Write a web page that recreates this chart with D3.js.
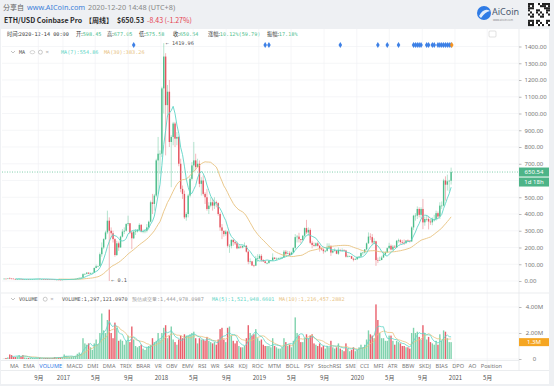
<!DOCTYPE html>
<html>
<head>
<meta charset="utf-8">
<script src="https://cdn.jsdelivr.net/npm/d3@7/dist/d3.min.js"></script>
<style>
    body { margin: 0; background: #eef0f3; }
    svg { display: block; }
</style>
</head>
<body>
<svg id="chart" width="554" height="386"></svg>
<script>
// weekly candles, ETH/USD Coinbase Pro, first week starts 2016-05-23
const startWeek = "2016-05-23";
const firstOpen = 12.5;
const closes = [
    13.9, 13.6, 15.0, 14.5, 14.0, 12.0, 10.5, 11.9, 12.5, 11.5,
    10.8, 11.0, 11.1, 11.0, 11.9, 12.0, 12.5, 13.0, 13.2, 12.0,
    12.0, 11.7, 11.0, 10.9, 10.2, 9.9, 9.2, 7.8, 8.2, 7.7,
    7.2, 8.2, 9.8, 10.0, 10.5, 10.6, 11.2, 11.4, 12.8, 15.6,
    19.2, 20.3, 41, 43, 50, 44, 48, 48.5, 78, 88,
    90, 160, 200, 250, 290, 360, 300, 285, 250, 155,
    225, 200, 265, 295, 300, 340, 345, 290, 255, 295,
    296, 305, 335, 296, 298, 300, 320, 354, 470, 460,
    510, 720, 760, 760, 1150, 1340, 1050, 1130, 830, 860,
    940, 850, 860, 700, 550, 520, 380, 400, 510, 610,
    690, 720, 680, 700, 580, 600, 520, 500, 430, 450,
    470, 450, 470, 465, 400, 320, 300, 280, 295, 210,
    210, 245, 232, 225, 195, 205, 200, 210, 210, 175,
    115, 117, 93, 92, 135, 135, 150, 125, 117, 108,
    108, 120, 123, 140, 132, 133, 136, 137, 141, 175,
    162, 165, 155, 170, 198, 262, 265, 250, 245, 270,
    316, 290, 305, 228, 215, 210, 225, 210, 195, 188,
    178, 180, 198, 210, 170, 180, 183, 163, 185, 182,
    184, 182, 145, 147, 148, 133, 127, 130, 144, 146,
    167, 170, 189, 225, 265, 262, 230, 237, 125, 122,
    125, 140, 158, 171, 196, 210, 188, 205, 200, 240,
    243, 233, 229, 226, 242, 240, 236, 320, 390, 390,
    430, 395, 430, 350, 370, 370, 355, 350, 370, 370,
    405, 385, 450, 450, 600, 575, 595, 598.45, 650.54
];
const highs = [
    14.0, 14.5, 15.3, 21.5, 15.5, 14.5, 12.2, 12.2, 15.0, 13.2,
    11.6, 12.0, 11.5, 11.4, 12.3, 12.3, 12.6, 13.5, 13.4, 13.4,
    12.2, 12.1, 11.9, 11.2, 11.2, 10.5, 10.0, 9.3, 8.5, 8.4,
    7.9, 8.5, 11.5, 10.9, 10.6, 10.8, 11.5, 11.6, 13.0, 16.0,
    19.5, 20.5, 46, 44, 53, 51, 50, 50, 80, 98,
    91, 170, 230, 255, 300, 420, 380, 320, 300, 255,
    240, 235, 270, 310, 320, 345, 390, 345, 300, 300,
    310, 310, 345, 340, 308, 310, 340, 360, 480, 520,
    520, 730, 860, 780, 1160, 1419.96, 1360, 1170, 1200, 870,
    950, 950, 890, 865, 730, 570, 540, 410, 520, 620,
    710, 830, 760, 730, 720, 620, 630, 530, 550, 470,
    500, 490, 500, 480, 470, 410, 340, 300, 305, 300,
    220, 250, 250, 240, 235, 215, 210, 210, 230, 215,
    180, 135, 120, 97, 150, 160, 160, 160, 130, 122,
    110, 125, 125, 165, 140, 140, 140, 145, 145, 185,
    185, 180, 178, 175, 200, 280, 275, 288, 250, 275,
    320, 365, 320, 315, 240, 230, 230, 235, 215, 200,
    195, 185, 225, 225, 212, 185, 195, 185, 200, 192,
    195, 190, 186, 158, 152, 150, 140, 137, 146, 150,
    175, 172, 190, 230, 290, 285, 280, 255, 240, 140,
    145, 150, 175, 178, 200, 228, 218, 215, 215, 245,
    253, 250, 245, 248, 243, 248, 244, 327, 395, 405,
    445, 440, 440, 490, 385, 395, 385, 370, 380, 395,
    420, 415, 470, 475, 610, 625, 635, 604, 677.05
];
const lows = [
    12.0, 12.9, 13.5, 13.0, 11.5, 11.8, 10.0, 10.4, 11.0, 10.5,
    8.2, 10.2, 10.5, 10.7, 10.9, 11.1, 11.7, 12.4, 12.8, 11.8,
    11.8, 11.6, 10.9, 10.1, 10.0, 9.6, 8.8, 7.6, 7.3, 7.2,
    6.7, 7.0, 8.0, 9.5, 9.8, 10.3, 10.5, 10.9, 11.2, 12.4,
    15.4, 18.0, 20, 35, 40, 41, 43, 46, 48, 76,
    82, 88, 145, 190, 245, 280, 0.1, 260, 230, 145,
    150, 180, 200, 260, 280, 295, 330, 280, 190, 250,
    275, 290, 295, 290, 285, 285, 290, 305, 350, 400,
    420, 500, 520, 640, 740, 1000, 750, 980, 800, 560,
    810, 800, 810, 685, 530, 490, 370, 360, 380, 500,
    600, 650, 660, 680, 560, 510, 510, 460, 420, 400,
    440, 420, 430, 440, 390, 300, 250, 265, 270, 200,
    168, 195, 210, 215, 190, 195, 195, 195, 205, 170,
    100, 103, 90, 82, 90, 115, 130, 115, 115, 105,
    100, 103, 116, 120, 130, 124, 131, 134, 133, 140,
    155, 160, 150, 155, 165, 190, 230, 230, 225, 240,
    260, 280, 270, 220, 195, 205, 205, 205, 175, 182,
    163, 170, 175, 195, 150, 165, 175, 160, 156, 175,
    178, 180, 140, 140, 145, 132, 117, 125, 126, 135,
    143, 156, 164, 184, 222, 245, 215, 220, 90, 107,
    122, 125, 140, 150, 170, 190, 183, 183, 198, 196,
    229, 221, 220, 215, 222, 233, 230, 235, 305, 360,
    370, 380, 375, 310, 330, 355, 308, 335, 333, 355,
    360, 370, 370, 430, 445, 480, 540, 535, 575.58
];
// weekly volume, millions of ETH
const volumes = [
    0.02, 0.08, 0.12, 0.35, 0.3, 0.15, 0.15, 0.2, 0.3, 0.2,
    0.3, 0.12, 0.1, 0.08, 0.1, 0.08, 0.08, 0.1, 0.08, 0.08,
    0.06, 0.06, 0.08, 0.08, 0.07, 0.06, 0.08, 0.15, 0.12, 0.12,
    0.12, 0.15, 0.35, 0.25, 0.2, 0.15, 0.18, 0.2, 0.25, 0.4,
    0.5, 0.4, 1.6, 1.2, 1.1, 1.2, 0.9, 0.7, 1.2, 1.5,
    1.1, 2.0, 3.5, 2.2, 2.0, 3.0, 3.8, 2.0, 1.6, 2.8,
    2.4, 1.4, 1.5, 1.4, 1.1, 1.4, 1.8, 1.3, 2.5, 1.5,
    1.0, 0.9, 1.0, 1.1, 0.8, 0.7, 0.9, 1.0, 1.1, 1.6,
    1.3, 1.4, 2.0, 1.5, 2.0, 2.4, 2.6, 1.6, 1.8, 2.5,
    1.5, 1.3, 1.1, 1.5, 1.8, 1.6, 1.9, 1.8, 1.8, 1.9,
    2.0, 2.1, 1.6, 1.2, 1.6, 1.5, 1.5, 1.4, 1.7, 1.4,
    1.3, 1.2, 1.3, 1.1, 1.5, 2.3, 2.4, 1.5, 1.3, 2.4,
    2.5, 1.8, 1.4, 1.2, 1.4, 1.0, 0.9, 0.9, 1.0, 1.6,
    2.6, 2.0, 1.8, 1.9, 2.3, 1.6, 1.4, 1.5, 1.1, 1.0,
    1.0, 1.0, 0.9, 1.6, 1.0, 0.9, 0.8, 0.8, 0.9, 1.6,
    1.3, 1.0, 1.1, 0.9, 1.4, 3.2, 2.0, 1.8, 1.3, 1.3,
    1.6, 1.9, 1.6, 1.8, 1.9, 1.2, 1.1, 1.0, 1.2, 0.9,
    1.0, 0.8, 1.0, 0.9, 1.4, 0.9, 0.8, 0.9, 1.2, 0.8,
    0.7, 0.6, 1.2, 0.8, 0.6, 0.7, 0.9, 0.6, 0.7, 0.9,
    1.1, 0.9, 1.1, 1.5, 2.2, 1.9, 1.8, 1.6, 4.2, 3.0,
    2.0, 1.6, 1.6, 1.4, 1.4, 1.8, 1.8, 1.4, 1.1, 1.4,
    1.3, 1.2, 1.0, 1.0, 0.9, 0.9, 0.8, 2.0, 2.4, 2.0,
    2.1, 1.7, 1.5, 2.6, 2.0, 1.5, 1.7, 1.3, 1.2, 1.1,
    1.4, 1.1, 1.9, 1.4, 2.2, 2.1, 1.6, 1.3, 1.297
];

const priceTicks = [0, 100, 200, 300, 400, 500, 600, 700, 800, 900, 1000, 1100, 1200, 1300, 1400];
const volumeTicks = [0, 2, 4];
const timeLabels = [
    ["2016-10-01", "9月"], ["2017-01-01", "2017"], ["2017-05-01", "5月"], ["2017-09-01", "9月"],
    ["2018-01-01", "2018"], ["2018-05-01", "5月"], ["2018-09-01", "9月"],
    ["2019-01-01", "2019"], ["2019-05-01", "5月"], ["2019-09-01", "9月"],
    ["2020-01-01", "2020"], ["2020-05-01", "5月"], ["2020-09-01", "9月"],
    ["2021-01-01", "2021"], ["2021-05-01", "5月"]
];
const eventDates = [
    "2017-09-18", "2019-01-21", "2019-02-04", "2019-10-28", "2020-03-16", "2020-04-20", "2020-06-01",
    "2020-07-27", "2020-08-03", "2020-08-10", "2020-08-17", "2020-08-24", "2020-09-14", "2020-09-21",
    "2020-10-05", "2020-10-12", "2020-10-26", "2020-11-02", "2020-11-09", "2020-11-16", "2020-11-23",
    "2020-11-30", "2020-12-07", "2020-12-14"
];
const latestEvent = "2020-12-20";
const indicatorTabs = ["MA", "EMA", "VOLUME", "MACD", "DMI", "DMA", "TRIX", "BRAR", "VR", "OBV", "EMV", "RSI",
    "WR", "SAR", "KDJ", "ROC", "MTM", "BOLL", "PSY", "StochRSI", "SMI", "CCI", "MFI", "ATR", "BBW", "SKDJ",
    "BIAS", "DPO", "AO", "Position"];

const upColor = "#4dbd8b";
const downColor = "#e5535f";
const ma7Color = "#5fd5c6";
const ma30Color = "#e8c27f";
const fontSans = '"Noto Sans", "Noto Sans CJK SC", sans-serif';
const fontCjk = '"Noto Sans CJK SC", "Noto Sans", sans-serif';
const fontMono = '"DejaVu Sans Mono", "Liberation Mono", monospace';

const plotLeft = 2, plotRight = 519;
const svg = d3.select("#chart");

const parseDay = d3.utcParse("%Y-%m-%d");
const start = parseDay(startWeek);
const data = closes.map(function (c, i) {
    return {
        date: d3.utcDay.offset(start, i * 7),
        open: i === 0 ? firstOpen : closes[i - 1],
        high: highs[i],
        low: lows[i],
        close: c,
        volume: volumes[i] * 1e6
    };
});

function movingAverage(values, n) {
    return values.map(function (v, i) {
        if (i < n - 1) return null;
        return d3.mean(values.slice(i - n + 1, i + 1));
    });
}

const x = d3.scaleUtc()
    .domain([parseDay("2017-01-01"), parseDay("2021-01-01")])
    .range([63, 455]);
const y = d3.scaleLinear().domain([0, 1400]).range([281, 46.5]);
const yVol = d3.scaleLinear().domain([0, 4e6]).range([359, 307]);

function cx(d) {
    return x(d3.utcHour.offset(d, 84));
}

// backgrounds
svg.append("rect").attr("width", 554).attr("height", 386).attr("fill", "#eef0f3");
svg.append("rect").attr("x", 1).attr("y", 29).attr("width", 548).attr("height", 355).attr("fill", "#fff");

// header
const head = svg.append("g");
head.append("text").attr("x", 3).attr("y", 10).attr("font-family", fontCjk).attr("font-size", 7)
    .attr("fill", "#666").text("分享自");
head.append("text").attr("x", 27).attr("y", 10).attr("font-family", fontSans).attr("font-size", 7.3)
    .attr("fill", "#3d7fd9").text("www.AICoin.com");
head.append("text").attr("x", 88).attr("y", 10).attr("font-family", fontSans).attr("font-size", 7.3)
    .attr("fill", "#888").text("2020-12-20 14:48 (UTC+8)");
const title = head.append("text").attr("x", 4).attr("y", 23).attr("font-family", fontCjk)
    .attr("font-size", 7).attr("font-weight", "bold").attr("fill", "#2b2b2b");
title.append("tspan").text("ETH/USD Coinbase Pro");
title.append("tspan").attr("x", 85).text("【周线】");
title.append("tspan").attr("x", 117).text("$650.53");
title.append("tspan").attr("x", 147).attr("fill", "#e5404f").attr("font-weight", "normal").text("-8.43 (-1.27%)");

// logo + qr
head.append("circle").attr("cx", 484).attr("cy", 13).attr("r", 7).attr("fill", "#2f7be5");
head.append("path").attr("d", "M479,16 Q484,7 490,11 Q485,12 481,18 Z").attr("fill", "#fff").attr("opacity", 0.85);
head.append("text").attr("x", 492).attr("y", 15).attr("font-family", fontSans).attr("font-size", 9)
    .attr("fill", "#4a5a70").text("AiCoin");
head.append("text").attr("x", 493).attr("y", 20.5).attr("font-family", fontSans).attr("font-size", 2.6)
    .attr("fill", "#888").text("www.aicoin.com");
const qr = head.append("g").attr("transform", "translate(528,3)");
qr.append("rect").attr("width", 22).attr("height", 23).attr("fill", "#fff");
for (let r = 0; r < 11; r++) {
    for (let c = 0; c < 11; c++) {
        const finder = (r < 3 && c < 3) || (r < 3 && c > 7) || (r > 7 && c < 3);
        const on = finder ? !(r % 8 === 1 && c % 8 === 1) : ((r * 7 + c * 13 + r * c) % 5 < 2);
        if (on) qr.append("rect").attr("x", c * 2).attr("y", r * 2.1).attr("width", 2).attr("height", 2.1).attr("fill", "#222");
    }
}

// info row
const info = svg.append("text").attr("y", 36).attr("font-family", fontMono).attr("font-size", 5.2).attr("fill", "#333");
const infoParts = [["时间:", "2020-12-14 00:00", 7, "#333"], ["开:", "598.45", 76, upColor], ["高:", "677.05", 107, upColor],
    ["低:", "575.58", 139, upColor], ["收:", "650.54", 173, upColor], ["涨幅:", "10.12%(59.79)", 208, upColor], ["振幅:", "17.18%", 267, upColor]];
infoParts.forEach(function (p) {
    info.append("tspan").attr("x", p[2]).attr("font-family", fontCjk).text(p[0]);
    info.append("tspan").attr("fill", p[3]).text(p[1]);
});
svg.append("rect").attr("x", 489).attr("y", 31).attr("width", 7).attr("height", 6).attr("rx", 1)
    .attr("fill", "none").attr("stroke", "#ccc").attr("stroke-width", 0.6);

// grid
const grid = svg.append("g").attr("stroke", "#f0f2f5").attr("stroke-width", 0.7);
grid.selectAll(".h").data(priceTicks).join("line")
    .attr("x1", plotLeft).attr("x2", plotRight).attr("y1", d => y(d)).attr("y2", d => y(d));
grid.selectAll(".v").data(timeLabels).join("line")
    .attr("x1", d => x(parseDay(d[0]))).attr("x2", d => x(parseDay(d[0])))
    .attr("y1", 29).attr("y2", 370);
grid.selectAll(".vh").data(volumeTicks).join("line")
    .attr("x1", plotLeft).attr("x2", plotRight).attr("y1", d => yVol(d * 1e6)).attr("y2", d => yVol(d * 1e6));

// panel separators
const sep = svg.append("g").attr("stroke", "#e6e8eb").attr("stroke-width", 0.8);
sep.append("line").attr("x1", 1).attr("x2", 549).attr("y1", 293).attr("y2", 293);
sep.append("line").attr("x1", 1).attr("x2", plotRight).attr("y1", 360.5).attr("y2", 360.5);
sep.append("line").attr("x1", 1).attr("x2", 549).attr("y1", 370.5).attr("y2", 370.5);
sep.append("line").attr("x1", plotRight).attr("x2", plotRight).attr("y1", 29).attr("y2", 370.5);

// candles
const candleG = svg.append("g");
candleG.selectAll("line").data(data).join("line")
    .attr("x1", d => cx(d.date)).attr("x2", d => cx(d.date))
    .attr("y1", d => y(d.high)).attr("y2", d => y(d.low))
    .attr("stroke", d => d.close >= d.open ? upColor : downColor)
    .attr("stroke-opacity", 0.6).attr("stroke-width", 0.7);
candleG.selectAll("rect").data(data).join("rect")
    .attr("x", d => cx(d.date) - 0.7).attr("width", 1.4)
    .attr("y", d => y(Math.max(d.open, d.close)))
    .attr("height", d => Math.max(0.6, Math.abs(y(d.open) - y(d.close))))
    .attr("fill", d => d.close >= d.open ? upColor : downColor);

// moving averages
const ma7 = movingAverage(closes, 7);
const ma30 = movingAverage(closes, 30);
const maLine = d3.line().defined(d => d[1] != null).x(d => cx(d[0])).y(d => y(d[1]));
svg.append("path").datum(data.map((d, i) => [d.date, ma30[i]])).attr("d", maLine)
    .attr("fill", "none").attr("stroke", ma30Color).attr("stroke-width", 0.9);
svg.append("path").datum(data.map((d, i) => [d.date, ma7[i]])).attr("d", maLine)
    .attr("fill", "none").attr("stroke", ma7Color).attr("stroke-width", 0.9);

// high / low markers
const hiIdx = d3.maxIndex(highs), loIdx = d3.minIndex(lows);
svg.append("text").attr("x", cx(data[hiIdx].date) + 2).attr("y", y(highs[hiIdx]) + 1.5)
    .attr("font-family", fontMono).attr("font-size", 5.2).attr("fill", "#555").text("← " + highs[hiIdx].toFixed(2));
svg.append("text").attr("x", cx(data[loIdx].date) + 2).attr("y", y(lows[loIdx]) + 1.5)
    .attr("font-family", fontMono).attr("font-size", 5.2).attr("fill", "#555").text("← " + lows[loIdx]);

// events
const diamond = d3.symbol().type(d3.symbolDiamond).size(11);
svg.selectAll(".ev").data(eventDates).join("path")
    .attr("transform", d => "translate(" + cx(parseDay(d)) + ",45)")
    .attr("d", diamond).attr("fill", "#3d80e6");
svg.append("path").attr("transform", "translate(" + x(parseDay(latestEvent)) + ",45)")
    .attr("d", diamond).attr("fill", "#f7931e");

// last price line
const last = data[data.length - 1];
svg.append("line").attr("x1", plotLeft).attr("x2", plotRight).attr("y1", y(last.close)).attr("y2", y(last.close))
    .attr("stroke", upColor).attr("stroke-width", 0.7).attr("stroke-dasharray", "1,1.5");

// price axis
const priceAxis = svg.append("g").attr("transform", "translate(" + plotRight + ",0)")
    .call(d3.axisRight(y).tickValues(priceTicks).tickFormat(d3.format(".2f")).tickSize(2.5).tickPadding(3));
priceAxis.select(".domain").remove();
priceAxis.selectAll("line").attr("stroke", "#bbb");
priceAxis.selectAll("text").attr("font-family", fontSans).attr("font-size", 6).attr("fill", "#777");

svg.append("rect").attr("x", plotRight).attr("y", y(last.close) - 4.5).attr("width", 30).attr("height", 9).attr("fill", "#4db488");
svg.append("text").attr("x", 534).attr("y", y(last.close) + 2.2).attr("text-anchor", "middle")
    .attr("font-family", fontSans).attr("font-size", 6).attr("fill", "#fff").text(last.close.toFixed(2));
svg.append("rect").attr("x", plotRight).attr("y", y(last.close) + 5.5).attr("width", 30).attr("height", 9).attr("fill", "#4db488");
svg.append("text").attr("x", 534).attr("y", y(last.close) + 12.3).attr("text-anchor", "middle")
    .attr("font-family", fontSans).attr("font-size", 6).attr("fill", "#fff").text("1d 18h");

// MA legend
function legendRow(yPos, name, items) {
    const g = svg.append("g");
    g.append("path").attr("d", "M11," + (yPos - 3) + " l2,2 l2,-2").attr("fill", "none").attr("stroke", "#999").attr("stroke-width", 0.6);
    g.append("text").attr("x", 19).attr("y", yPos).attr("font-family", fontMono).attr("font-size", 5.2).attr("fill", "#555").text(name);
    let ix = 19 + name.length * 3.2 + 5;
    if (name === "MA") {
        g.append("ellipse").attr("cx", ix + 2).attr("cy", yPos - 1.8).attr("rx", 2.4).attr("ry", 1.6).attr("fill", "none").attr("stroke", "#bbb").attr("stroke-width", 0.6);
        ix += 8;
    }
    g.append("circle").attr("cx", ix + 2).attr("cy", yPos - 1.8).attr("r", 2).attr("fill", "none").attr("stroke", "#bbb").attr("stroke-width", 0.8);
    g.append("text").attr("x", ix + 7).attr("y", yPos + 0.3).attr("font-family", fontSans).attr("font-size", 6).attr("fill", "#aaa").text("×");
    items.forEach(function (it) {
        g.append("text").attr("x", it[0]).attr("y", yPos).attr("font-family", fontMono).attr("font-size", 5.2)
            .attr("fill", it[2]).text(it[1]);
    });
}
legendRow(54, "MA", [[61, "MA(7):554.86", ma7Color], [104, "MA(30):383.26", ma30Color]]);

// volume
const volG = svg.append("g");
volG.selectAll("rect").data(data).join("rect")
    .attr("x", d => cx(d.date) - 0.7).attr("width", 1.4)
    .attr("y", d => yVol(d.volume)).attr("height", d => yVol(0) - yVol(d.volume))
    .attr("fill", d => d.close >= d.open ? "#7fd2ad" : "#e9606c");
const vols = data.map(d => d.volume);
const ma5v = movingAverage(vols, 5), ma10v = movingAverage(vols, 10);
const volLine = d3.line().defined(d => d[1] != null).x(d => cx(d[0])).y(d => yVol(d[1]));
svg.append("path").datum(data.map((d, i) => [d.date, ma10v[i]])).attr("d", volLine)
    .attr("fill", "none").attr("stroke", ma30Color).attr("stroke-width", 0.8);
svg.append("path").datum(data.map((d, i) => [d.date, ma5v[i]])).attr("d", volLine)
    .attr("fill", "none").attr("stroke", ma7Color).attr("stroke-width", 0.8);

legendRow(301, "VOLUME", [[62, "VOLUME:1,297,121.0970", "#555"], [132, "预估成交量:1,444,978.0987", "#999"],
    [212, "MA(5):1,521,948.6601", ma7Color], [279, "MA(10):1,216,457.2882", ma30Color]]);

const volAxis = svg.append("g").attr("transform", "translate(" + plotRight + ",0)")
    .call(d3.axisRight(yVol).tickValues(volumeTicks.map(v => v * 1e6))
        .tickFormat(d => d === 0 ? "0" : d3.format(".2f")(d / 1e6) + "M").tickSize(2.5).tickPadding(3));
volAxis.select(".domain").remove();
volAxis.selectAll("line").attr("stroke", "#bbb");
volAxis.selectAll("text").attr("font-family", fontSans).attr("font-size", 6).attr("fill", "#777")
    .attr("text-anchor", "middle").attr("dx", 10);

svg.append("rect").attr("x", plotRight).attr("y", yVol(last.volume) - 4).attr("width", 30).attr("height", 8).attr("fill", "#f5a623");
svg.append("text").attr("x", 534).attr("y", yVol(last.volume) + 2).attr("text-anchor", "middle")
    .attr("font-family", fontSans).attr("font-size", 6).attr("fill", "#fff").text("1.3M");

// indicator tabs, spread between x=10 and x=502
const tabG = svg.append("g");
const tabs = indicatorTabs.map(function (name) {
    return tabG.append("text").attr("y", 367.5).attr("font-family", fontSans).attr("font-size", 5.6)
        .attr("fill", name === "VOLUME" ? "#2f7be5" : "#777").text(name);
});
const tabWidths = tabs.map(t => t.node().getComputedTextLength());
const tabGap = (492 - d3.sum(tabWidths)) / (tabs.length - 1);
let tabX = 10;
tabs.forEach(function (t, i) {
    t.attr("x", tabX);
    tabX += tabWidths[i] + tabGap;
});

// time axis
const timeAxis = svg.append("g").attr("transform", "translate(0,373)")
    .call(d3.axisBottom(x).tickValues(timeLabels.map(d => parseDay(d[0])))
        .tickFormat((d, i) => timeLabels[i][1]).tickSize(0).tickPadding(3));
timeAxis.select(".domain").remove();
timeAxis.selectAll("text").attr("font-family", fontCjk).attr("font-size", 6).attr("fill", "#555");
</script>
</body>
</html>
